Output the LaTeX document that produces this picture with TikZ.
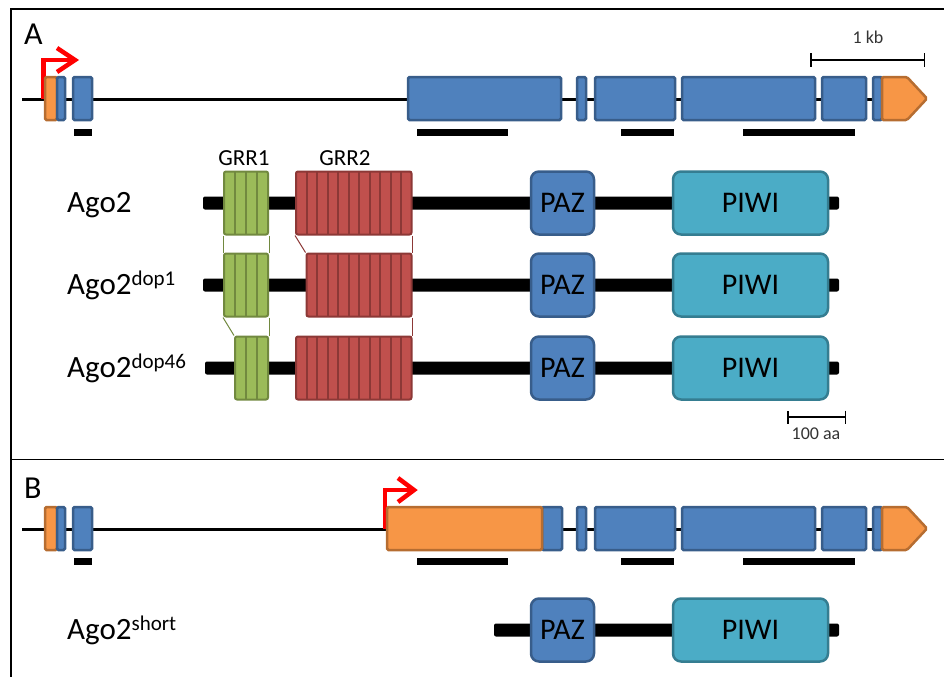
\documentclass[tikz,border=0pt]{standalone}
\usepackage{fontspec}
\setmainfont{Carlito}
\usetikzlibrary{arrows.meta}
\definecolor{exonblue}{HTML}{4F81BD}
\definecolor{exonline}{HTML}{385D8A}
\definecolor{utrorange}{HTML}{F79646}
\definecolor{utrline}{HTML}{B66D31}
\definecolor{grrgreen}{HTML}{9BBB59}
\definecolor{grrgreenline}{HTML}{71893F}
\definecolor{grrred}{HTML}{C0504D}
\definecolor{grrredline}{HTML}{8C3836}
\definecolor{piwiteal}{HTML}{4BACC6}
\definecolor{piwiline}{HTML}{357D91}
\newcommand{\agosup}[1]{\raisebox{9pt}{\fontsize{21}{21}\selectfont #1}}

\begin{document}
\begin{tikzpicture}[x=1pt,y=-1pt,
    exon/.style={draw=exonline, fill=exonblue, line width=2.5pt, rounded corners=1.5pt},
    utr/.style={draw=utrline, fill=utrorange, line width=2.5pt, rounded corners=1.5pt},
    tss/.style={draw=red, line width=4.5pt, line join=miter},
    scalebar/.style={line width=1.5pt, {Bar[width=13pt]}-{Bar[width=13pt]}},
    backbone/.style={fill=black, rounded corners=2pt},
    paz/.style={draw=exonline, fill=exonblue, line width=2.5pt, rounded corners=8pt,
      minimum width=63pt, minimum height=63pt, inner sep=0pt, font=\fontsize{30}{30}\selectfont},
    piwi/.style={paz, draw=piwiline, fill=piwiteal, minimum width=155pt},
    grrone/.style={draw=grrgreenline, fill=grrgreen, line width=2pt, rounded corners=2pt,
      minimum height=63pt, inner sep=0pt},
    grrtwo/.style={grrone, draw=grrredline, fill=grrred},
    greenrib/.style={grrgreenline, line width=2pt},
    redrib/.style={grrredline, line width=2pt},
    greenlink/.style={grrgreenline, line width=1pt},
    redlink/.style={grrredline, line width=1pt},
    rowlabel/.style={anchor=base west, inner sep=0pt, font=\fontsize{31}{31}\selectfont},
    panel/.style={anchor=base west, inner sep=0pt, font=\fontsize{32}{32}\selectfont},
    small/.style={inner sep=0pt, text=black!80, font=\fontsize{18}{18}\selectfont}]
  \useasboundingbox (0,0) rectangle (944,677);

  % frame
  \draw[line width=1.6pt] (944,9) -- (11,9) -- (11,677);
  \draw[line width=1.6pt] (11,459.5) -- (944,459.5);
  \node[panel] (panA) at (24,45) {A};
  \node[panel] (panB) at (24,498) {B};

  % gene model, panel A
  \draw[line width=3pt] (22,99) -- (925,99);
  \coordinate (tssA) at (75,60);
  \draw[tss] (43.5,99) |- (tssA);
  \draw[tss] (tssA) ++(-18,-12) -- (tssA) -- ++(-18,12);
  \draw[utr] (45,77) rectangle (57,120);
  \foreach \a/\b in {57/65,73/92,408/561,577/586,595/675,682/815,822/866,873/882}
    \draw[exon] (\a,77) rectangle (\b,120);
  \draw[utr] (882,77) -- (907,77) -- (927,98.5) -- (907,120) -- (882,120) -- cycle;
  \foreach \a/\b in {74/92,417/508,621/674,743/855}
    \fill (\a,129) rectangle (\b,136);
  \coordinate (kbL) at (810,60);
  \coordinate (kbR) at (925,60);
  \draw[scalebar] (kbL) -- (kbR);
  \node[small] (kb) at (868,37) {1 kb};

  % proteins
  \foreach \y/\s in {203/203,285/203,368/205}
    \fill[backbone] (\s,\y-6.5) rectangle (839,\y+6.5);
  \node[grrone, minimum width=44pt] (grr1a) at (246,203) {};
  \node[grrone, minimum width=44pt] (grr1b) at (246,285) {};
  \node[grrone, minimum width=33pt] (grr1c) at (251.5,368) {};
  \foreach \y in {203,285} \foreach \x in {235,246,257}
    \draw[greenrib] (\x,\y-31.5) -- ++(0,63);
  \foreach \x in {246,257}
    \draw[greenrib] (\x,368-31.5) -- ++(0,63);
  \node[grrtwo, minimum width=115.5pt] (grr2a) at (353.75,203) {};
  \node[grrtwo, minimum width=105pt] (grr2b) at (359,285) {};
  \node[grrtwo, minimum width=115.5pt] (grr2c) at (353.75,368) {};
  \foreach \y in {203,368} \foreach \k in {1,...,10}
    \draw[redrib] (296+\k*10.5,\y-31.5) -- ++(0,63);
  \foreach \k in {2,...,10}
    \draw[redrib] (296+\k*10.5,285-31.5) -- ++(0,63);
  \draw[greenlink] (grr1a.south west) -- (grr1b.north west);
  \draw[greenlink] (grr1a.south east) -- (grr1b.north east);
  \draw[greenlink] (grr1b.south west) -- (grr1c.north west);
  \draw[greenlink] (grr1b.south east) -- (grr1c.north east);
  \draw[redlink] (grr2a.south west) -- (grr2b.north west);
  \draw[redlink] (grr2a.south east) -- (grr2b.north east);
  \draw[redlink] (grr2b.south east) -- (grr2c.north east);
  \node[font=\fontsize{23}{23}\selectfont] (grr1lab) at (244,158) {GRR1};
  \node[font=\fontsize{23}{23}\selectfont] (grr2lab) at (345,158) {GRR2};
  \foreach \y/\n in {203/a,285/b,368/c} {
    \node[paz] (paz\n) at (562.5,\y) {PAZ};
    \node[piwi] (piwi\n) at (750.5,\y) {PIWI};
  }
  \node[rowlabel] (ago2) at (67,212) {Ago2};
  \node[rowlabel] (ago2dop1) at (67,294) {Ago2\agosup{dop1}};
  \node[rowlabel] (ago2dop46) at (67,377) {Ago2\agosup{dop46}};
  \coordinate (aaL) at (787,417);
  \coordinate (aaR) at (846,417);
  \draw[scalebar] (aaL) -- (aaR);
  \node[small] (aa) at (816,433.5) {100 aa};

  % gene model, panel B
  \draw[line width=3pt] (22,529) -- (925,529);
  \coordinate (tssB) at (414,490);
  \draw[tss] (385,529) |- (tssB);
  \draw[tss] (tssB) ++(-16,-12) -- (tssB) -- ++(-16,12);
  \draw[utr] (45,507) rectangle (57,550);
  \foreach \a/\b in {57/65,73/92,542/562,577/586,595/675,682/815,822/866,873/882}
    \draw[exon] (\a,507) rectangle (\b,550);
  \draw[utr] (387,507) rectangle (542,550);
  \draw[utr] (882,507) -- (907,507) -- (927,528.5) -- (907,550) -- (882,550) -- cycle;
  \foreach \a/\b in {74/92,417/508,621/674,743/855}
    \fill (\a,558) rectangle (\b,565);

  % short isoform
  \fill[backbone] (494,623.5) rectangle (839,636.5);
  \node[paz] (pazd) at (562.5,630) {PAZ};
  \node[piwi] (piwid) at (750.5,630) {PIWI};
  \node[rowlabel] (ago2short) at (67,639) {Ago2\agosup{short}};
\end{tikzpicture}
\end{document}
